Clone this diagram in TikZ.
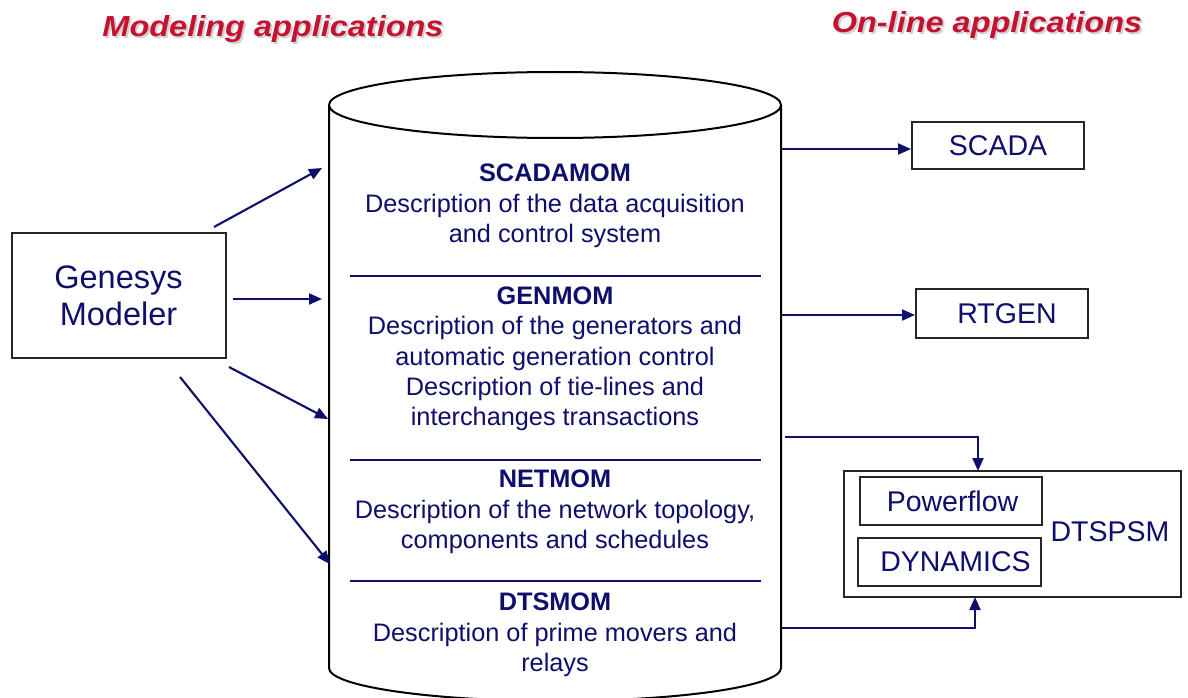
\documentclass[tikz,border=0pt]{standalone}
\usepackage{fontspec}
\setmainfont{Liberation Sans}
\usetikzlibrary{arrows.meta}
\definecolor{navy}{RGB}{14,14,108}
\definecolor{titlered}{RGB}{198,18,48}
\begin{document}
\begin{tikzpicture}[x=1pt,y=-1pt,
  line join=miter,
  conn/.style={draw=navy,line width=2.1pt,-{Triangle[length=13pt,width=11pt]}},
  boxstyle/.style={draw=black!85,line width=2pt,fill=white,inner sep=0pt},
  bigtxt/.style={text=navy,font=\fontsize{28.5}{34}\selectfont},
  bodytxt/.style={text=navy,align=center,font=\fontsize{25.3}{30.3}\selectfont},
  titletxt/.style={text=titlered,font=\fontsize{29}{34}\selectfont\bfseries\itshape,xscale=1.12,anchor=base},
  shadowtxt/.style={text=black!18,font=\fontsize{29}{34}\selectfont\bfseries\itshape,xscale=1.12,anchor=base},
  divider/.style={draw=navy,line width=1.7pt}]
\useasboundingbox (0,0) rectangle (1188,698);
\fill[white] (0,0) rectangle (1188,698);

% titles
\node[shadowtxt] (t1s) at (275,39) {Modeling applications};
\node[titletxt] (t1) at (273,37) {Modeling applications};
\node[shadowtxt] (t2s) at (989,35) {On-line applications};
\node[titletxt] (t2) at (987,33) {On-line applications};

% cylinder
\draw[line width=2pt,fill=white] (329,105) -- (329,668) arc(180:360:226pt and 33pt) -- (781,105);
\draw[line width=2pt,fill=white] (555,105) ellipse [x radius=226pt, y radius=33pt];
\coordinate (d1a) at (350,276); \coordinate (d1b) at (761,276);
\coordinate (d2a) at (350,460); \coordinate (d2b) at (761,460);
\coordinate (d3a) at (350,581); \coordinate (d3b) at (761,581);
\draw[divider] (d1a) -- (d1b);
\draw[divider] (d2a) -- (d2b);
\draw[divider] (d3a) -- (d3b);

\node[bodytxt] (scadamom) at (555,206) {\textbf{SCADAMOM}\\Description of the data acquisition\\and control system};
\node[bodytxt] (genmom) at (555,359) {\textbf{GENMOM}\\Description of the generators and\\automatic generation control\\Description of tie-lines and\\interchanges transactions};
\node[bodytxt] (netmom) at (555,512) {\textbf{NETMOM}\\Description of the network topology,\\components and schedules};
\node[bodytxt] (dtsmom) at (555,635) {\textbf{DTSMOM}\\Description of prime movers and\\relays};

% Genesys Modeler
\node[boxstyle,minimum width=214pt,minimum height=125pt,bigtxt,align=center,font=\fontsize{32.5}{37}\selectfont] (gen) at (118.5,295.5) {Genesys\\Modeler};

\coordinate (g1s) at (214,227); \coordinate (g1e) at (322,168);
\coordinate (g2s) at (233,299); \coordinate (g2e) at (322,299);
\coordinate (g3s) at (229,367); \coordinate (g3e) at (328,419);
\coordinate (g4s) at (180,377); \coordinate (g4e) at (330,564);
\draw[conn] (g1s) -- (g1e);
\draw[conn] (g2s) -- (g2e);
\draw[conn] (g3s) -- (g3e);
\draw[conn] (g4s) -- (g4e);

% right side boxes
\node[boxstyle,minimum width=172pt,minimum height=47pt,bigtxt] (scada) at (998,145.5) {SCADA};
\node[boxstyle,minimum width=172pt,minimum height=49pt,bigtxt,text width=172pt,align=center] (rtgen) at (1002,313.5) {\hspace*{10pt}RTGEN};
\node[boxstyle,minimum width=337pt,minimum height=126pt] (dtspsm) at (1012.5,534) {};
\node[bigtxt] (dtslabel) at (1110,532) {DTSPSM};
\node[boxstyle,minimum width=182pt,minimum height=48pt,bigtxt,text width=182pt,align=center] (pf) at (951,501) {\hspace*{3pt}Powerflow};
\node[boxstyle,minimum width=183pt,minimum height=48pt,bigtxt,text width=183pt,align=center] (dyn) at (949.5,562) {\hspace*{12pt}DYNAMICS};

\coordinate (c1) at (781,149);
\coordinate (c2) at (781,315);
\coordinate (c3) at (785,437);
\coordinate (c4) at (781,628);
\coordinate (dtin) at (978,471);
\coordinate (dtin2) at (975,597);
\draw[conn] (c1) -- (c1 -| scada.west);
\draw[conn] (c2) -- (c2 -| rtgen.west);
\draw[conn] (c3) -| (dtin);
\draw[conn] (c4) -| (dtin2);
\end{tikzpicture}
\end{document}
